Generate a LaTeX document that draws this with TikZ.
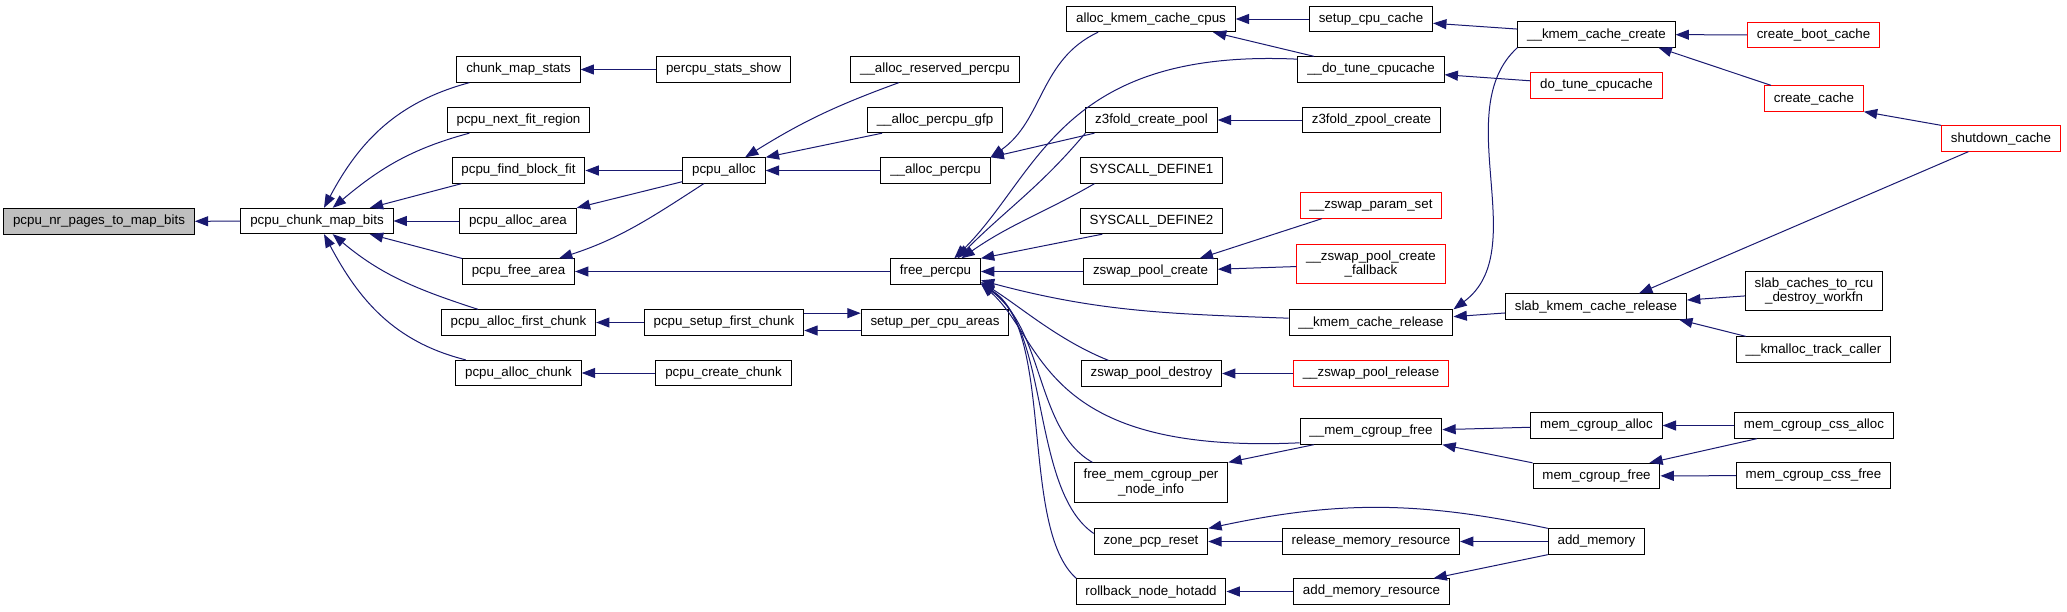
\documentclass[tikz,border=0pt]{standalone}
\usepackage{fontspec}
\setmainfont{Liberation Sans}
\usepackage{xcolor}
\usepackage{tikz}
\usetikzlibrary{arrows.meta, positioning}
\definecolor{edgeblue}{RGB}{25,25,112}
\definecolor{rootgray}{RGB}{191,191,191}
\tikzstyle{func}     = [rectangle, draw=black, fill=white, line width=0.75pt,
                        minimum height=19pt, inner xsep=7pt, inner ysep=2pt,
                        align=center, font=\fontsize{10}{11}\selectfont]
\tikzstyle{rootfunc} = [func, fill=rootgray]
\tikzstyle{redfunc}  = [func, draw=red]
\tikzstyle{twoline}  = [minimum height=29.5pt]
\tikzstyle{arr}      = [-{Triangle[length=10pt,width=7.5pt]}, color=edgeblue, line width=0.75pt]

\begin{document}
\begin{tikzpicture}[x=0.75pt, y=-0.75pt]
  \useasboundingbox (0,0) rectangle (2067,611);

  \node[rootfunc] (nrpages) at (99,221.5) {pcpu\_nr\_pages\_to\_map\_bits};
  \node[func] (cmb) at (317,221) {pcpu\_chunk\_map\_bits};

  \node[func] (stats) at (518.5,69.5) {chunk\_map\_stats};
  \node[func] (nextfit) at (518.5,120) {pcpu\_next\_fit\_region};
  \node[func] (findfit) at (518.5,170.5) {pcpu\_find\_block\_fit};
  \node[func] (allocarea) at (518,221) {pcpu\_alloc\_area};
  \node[func] (freearea) at (518.5,271.5) {pcpu\_free\_area};
  \node[func] (firstchunk) at (518.5,322.5) {pcpu\_alloc\_first\_chunk};
  \node[func] (allocchunk) at (518.5,373) {pcpu\_alloc\_chunk};

  \node[func] (statsshow) at (723.5,69.5) {percpu\_stats\_show};
  \node[func] (pcpualloc) at (724,170.5) {pcpu\_alloc};
  \node[func] (setupfirst) at (724,322.5) {pcpu\_setup\_first\_chunk};
  \node[func] (createchunk) at (723.5,373) {pcpu\_create\_chunk};

  \node[func] (allocres) at (935,69.5) {\_\_alloc\_reserved\_percpu};
  \node[func] (allocgfp) at (935,120) {\_\_alloc\_percpu\_gfp};
  \node[func] (allocpcpu) at (935.5,170.5) {\_\_alloc\_percpu};
  \node[func] (freepcpu) at (935.5,271.5) {free\_percpu};
  \node[func] (setupareas) at (935,322.5) {setup\_per\_cpu\_areas};

  \node[func] (akcc) at (1151,19) {alloc\_kmem\_cache\_cpus};
  \node[func] (z3create) at (1151.5,120) {z3fold\_create\_pool};
  \node[func] (sys1) at (1151.5,170.5) {SYSCALL\_DEFINE1};
  \node[func] (sys2) at (1151.5,221) {SYSCALL\_DEFINE2};
  \node[func] (zpcreate) at (1150.5,271.5) {zswap\_pool\_create};
  \node[func] (zpdestroy) at (1151.5,373.5) {zswap\_pool\_destroy};
  \node[func, twoline] (fmcg) at (1151,482.5) {free\_mem\_cgroup\_per\\\_node\_info};
  \node[func] (zonereset) at (1151,541.5) {zone\_pcp\_reset};
  \node[func] (rollback) at (1151,591.5) {rollback\_node\_hotadd};

  \node[func] (setupcc) at (1371,19) {setup\_cpu\_cache};
  \node[func] (dotune) at (1371,69.5) {\_\_do\_tune\_cpucache};
  \node[func] (z3zpool) at (1371.5,120) {z3fold\_zpool\_create};
  \node[redfunc] (zparam) at (1371,205.5) {\_\_zswap\_param\_set};
  \node[redfunc, twoline] (zfallback) at (1371,264) {\_\_zswap\_pool\_create\\\_fallback};
  \node[func] (kcrelease) at (1371,322.5) {\_\_kmem\_cache\_release};
  \node[redfunc] (zprelease) at (1371,373.5) {\_\_zswap\_pool\_release};
  \node[func] (mcgfree) at (1371,431.5) {\_\_mem\_cgroup\_free};
  \node[func] (relmem) at (1371,541.5) {release\_memory\_resource};
  \node[func] (addmemres) at (1371.5,591.5) {add\_memory\_resource};

  \node[func] (kccreate) at (1596.5,34.5) {\_\_kmem\_cache\_create};
  \node[redfunc] (dotunered) at (1596.5,85.5) {do\_tune\_cpucache};
  \node[func] (slabrel) at (1596,306.5) {slab\_kmem\_cache\_release};
  \node[func] (mcgalloc) at (1596.5,425.5) {mem\_cgroup\_alloc};
  \node[func] (mcgfreefn) at (1596.5,476) {mem\_cgroup\_free};
  \node[func] (addmem) at (1596.5,541.5) {add\_memory};

  \node[redfunc] (bootcache) at (1813.5,35) {create\_boot\_cache};
  \node[redfunc] (createcache) at (1814,98.5) {create\_cache};
  \node[func, twoline] (rcuwork) at (1814,291) {slab\_caches\_to\_rcu\\\_destroy\_workfn};
  \node[func] (kmalloc) at (1813.5,349.5) {\_\_kmalloc\_track\_caller};
  \node[func] (cssalloc) at (1814,425.5) {mem\_cgroup\_css\_alloc};
  \node[func] (cssfree) at (1813.5,475.5) {mem\_cgroup\_css\_free};
  \node[redfunc] (shutdown) at (2001,138.5) {shutdown\_cache};

  % callers of pcpu_chunk_map_bits
  \draw[arr] (cmb) -- (nrpages);
  \draw[arr] (stats) to[out=195,in=62] (cmb);
  \draw[arr] (nextfit) to[out=195,in=40] (cmb);
  \draw[arr] (findfit.193) -- (cmb.14);
  \draw[arr] (allocarea) -- (cmb);
  \draw[arr] (freearea.167) -- (cmb.-14);
  \draw[arr] (firstchunk) to[out=162,in=-40] (cmb);
  \draw[arr] (allocchunk) to[out=166,in=-62] (cmb);

  \draw[arr] (statsshow) -- (stats);
  \draw[arr] (pcpualloc) -- (findfit);
  \draw[arr] (pcpualloc.195) -- (allocarea.north east);
  \draw[arr] (pcpualloc) to[out=213,in=18] (freearea);
  \draw[arr] (freepcpu) -- (freearea);
  \draw[arr] (setupfirst) -- (firstchunk);
  \draw[arr] ([yshift=7pt]setupfirst.east) -- ([yshift=7pt]setupareas.west);
  \draw[arr] ([yshift=-6pt]setupareas.west) -- ([yshift=-6pt]setupfirst.east);
  \draw[arr] (createchunk) -- (allocchunk);

  % callers of pcpu_alloc and __alloc_percpu
  \draw[arr] (allocres) to[out=200,in=32] (pcpualloc);
  \draw[arr] (allocgfp.194) -- (pcpualloc.north east);
  \draw[arr] (allocpcpu) -- (pcpualloc);
  \draw[arr] (akcc.194) to[out=205,in=35] (allocpcpu.north east);
  \draw[arr] (z3create.193) -- (allocpcpu.north east);

  % callers of free_percpu
  \draw[arr] (dotune.172) .. controls +(-238,-11) and +(85,-84) .. (freepcpu.35);
  \draw[arr] (z3create.south west) to[out=230,in=45] (freepcpu.31);
  \draw[arr] (sys1.193) to[out=210,in=35] (freepcpu.27);
  \draw[arr] (sys2.195) -- (freepcpu.north east);
  \draw[arr] (zpcreate) -- (freepcpu);
  \draw[arr] (kcrelease.177) to[out=178,in=-15] (freepcpu.-11);
  \draw[arr] (zpdestroy.163) .. controls +(-50,-20) and +(40,25) .. (freepcpu.-13);
  \draw[arr] (mcgfree.189) .. controls +(-261,12) and +(64,56) .. (freepcpu.-15);
  \draw[arr] (fmcg.161) .. controls +(-57,-32) and +(64,46) .. (freepcpu.-15);
  \draw[arr] (zonereset.172) .. controls +(-63,-43) and +(69,46) .. (freepcpu.-15);
  \draw[arr] (rollback.170) .. controls +(-57,-50) and +(74,46) .. (freepcpu.-15);

  \draw[arr] (setupcc) -- (akcc);
  \draw[arr] (dotune.167) -- (akcc.-12);
  \draw[arr] (z3zpool) -- (z3create);
  \draw[arr] (zparam.195) -- (zpcreate.15);
  \draw[arr] (zfallback) -- (zpcreate);
  \draw[arr] (zprelease) -- (zpdestroy);
  \draw[arr] (mcgfree.193) -- (fmcg.north east);
  \draw[arr] (relmem) -- (zonereset);
  \draw[arr] (addmemres) -- (rollback);

  \draw[arr] (kccreate) -- (setupcc);
  \draw[arr] (dotunered) -- (dotune);
  \draw[arr] (kccreate.south west) .. controls +(-69,63) and +(80,-59) .. (kcrelease.north east);
  \draw[arr] (slabrel) -- (kcrelease);
  \draw[arr] (mcgalloc) -- (mcgfree);
  \draw[arr] (mcgfreefn.north west) -- (mcgfree.south east);
  \draw[arr] (addmem) -- (relmem);
  \draw[arr] (addmem.north west) to[out=168,in=12] (zonereset.north east);
  \draw[arr] (addmem.south west) -- (addmemres.12);

  \draw[arr] (bootcache) -- (kccreate);
  \draw[arr] (createcache.163) -- (kccreate.-12);
  \draw[arr] (shutdown.north west) -- (createcache.south east);
  \draw[arr] (shutdown.202) -- (slabrel.17);
  \draw[arr] (rcuwork) -- (slabrel);
  \draw[arr] (kmalloc.169) -- (slabrel.-9);
  \draw[arr] (cssalloc) -- (mcgalloc);
  \draw[arr] (cssalloc.193) -- (mcgfreefn.14);
  \draw[arr] (cssfree) -- (mcgfreefn);
\end{tikzpicture}
\end{document}
